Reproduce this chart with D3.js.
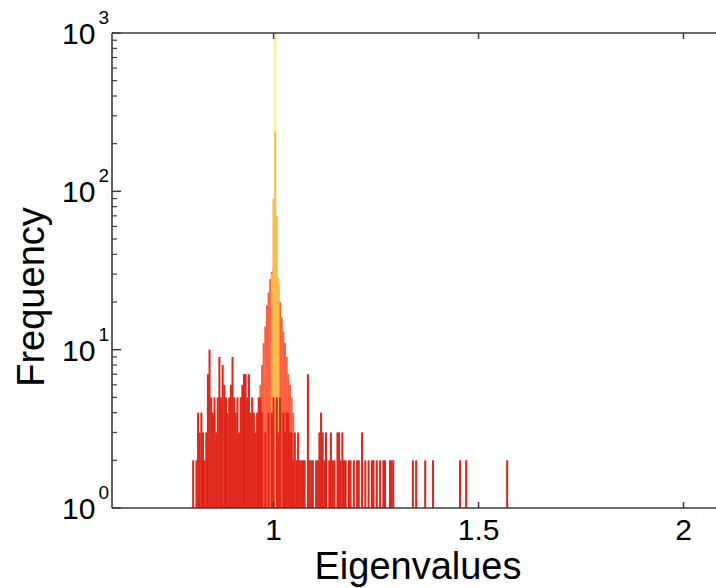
<!DOCTYPE html>
<html>
<head>
<meta charset="utf-8">
<script src="https://cdn.jsdelivr.net/npm/d3@7"></script>
<style>
  body { margin: 0; background: #fff; }
  svg { display: block; font-family: "Liberation Sans", Arial, Helvetica, sans-serif; }
</style>
</head>
<body>
<svg id="chart" width="716" height="588"></svg>
<script>
// histogram bin width (eigenvalue units)
const binWidth = 0.004

// broad red series: bin centers + counts
const redX = [0.805, 0.813, 0.817, 0.821, 0.825, 0.829, 0.833, 0.837, 0.841, 0.845, 0.849, 0.853, 0.857, 0.861, 0.865, 0.869,
  0.873, 0.877, 0.881, 0.885, 0.889, 0.893, 0.897, 0.901, 0.905, 0.909, 0.913, 0.917, 0.921, 0.925, 0.929, 0.933,
  0.937, 0.941, 0.945, 0.949, 0.953, 0.957, 0.961, 0.965, 0.969, 0.973, 0.981, 0.989, 0.997,
  1.001, 1.009, 1.013, 1.017, 1.025, 1.029, 1.033, 1.037, 1.041, 1.045, 1.049, 1.053, 1.057, 1.061,
  1.065, 1.069, 1.073, 1.077, 1.085, 1.089, 1.093, 1.097, 1.105, 1.109, 1.113, 1.117, 1.121, 1.125, 1.129, 1.137,
  1.141, 1.145, 1.149, 1.157, 1.161, 1.165, 1.169, 1.173, 1.177, 1.185, 1.189, 1.197, 1.205, 1.209, 1.217, 1.225,
  1.233, 1.241, 1.245, 1.253, 1.261, 1.269, 1.273, 1.285, 1.289, 1.293, 1.341, 1.349, 1.371, 1.390, 1.456, 1.471, 1.571]
const redCount = [2, 2, 4, 3, 4, 3, 2, 3, 7, 10, 5, 4, 5, 3, 5, 9,
  5, 8, 6, 5, 4, 5, 6, 9, 5, 4, 5, 3, 5, 6, 7, 7,
  5, 7, 4, 5, 4, 3, 4, 5, 5, 4, 3, 4, 4,
  5, 5, 3, 5, 4, 3, 4, 4, 3, 3, 2, 3, 2, 3,
  2, 2, 2, 2, 7, 2, 2, 2, 2, 2, 3, 4, 3, 2, 3, 2,
  3, 2, 2, 3, 3, 2, 3, 2, 2, 2, 2, 2, 2, 2, 3, 2,
  2, 2, 2, 2, 2, 2, 2, 2, 2, 2, 2, 2, 2, 2, 2, 2, 2]

// orange-red series around 1
const orangeRedX = [0.965, 0.969, 0.973, 0.977, 0.981, 0.985, 0.989, 0.993, 0.997, 1.001, 1.005, 1.009, 1.013, 1.017,
  1.021, 1.025, 1.029, 1.033, 1.037, 1.041, 1.045, 1.049]
const orangeRedCount = [4, 6, 8, 11, 14, 19, 23, 28, 31, 33, 32, 29, 26, 20, 16, 13, 11, 9, 7, 6, 5, 4]

// orange series, narrow
const orangeX = [0.997, 1.001, 1.005, 1.009, 1.013]
const orangeCount = [30, 90, 240, 70, 28]

// yellow spike
const yellowX = [1.005]
const yellowCount = [1000]

const xTicks = [1, 1.5, 2]
const yTicks = [1, 10, 100, 1000]
const yTickExp = ['0', '1', '2', '3']

const svg = d3.select('#chart')

const x = d3.scaleLinear().domain([0.607, 2.2]).range([112, 765])
const y = d3.scaleLog().domain([1, 1000]).range([508, 33])

const series = [
  { xs: orangeRedX, cs: orangeRedCount, color: '#ff5f3f' },
  { xs: yellowX, cs: yellowCount, color: '#fff07e' },
  { xs: orangeX, cs: orangeCount, color: '#ffba4c' },
  { xs: redX, cs: redCount, color: '#e0261a' }
]

series.forEach(s => {
  const pts = s.xs.map((v, i) => ({ v: v, c: s.cs[i] }))
  svg.append('g').selectAll('rect').data(pts).join('rect')
    .attr('x', d => x(d.v - binWidth / 2) - 0.2)
    .attr('width', d => x(d.v + binWidth / 2) - x(d.v - binWidth / 2) + 0.4)
    .attr('y', d => y(d.c))
    .attr('height', d => y(1) - y(d.c))
    .attr('fill', s.color)
})

// axes, MATLAB style with ticks inward
const axisColor = '#3a3a3a'
const bottomAxis = svg.append('g').attr('transform', 'translate(0,508)')
  .call(d3.axisBottom(x).tickValues(xTicks).tickSizeInner(-6).tickSizeOuter(0).tickPadding(11).tickFormat(d3.format('')))
bottomAxis.select('.domain').remove()
bottomAxis.selectAll('line').attr('stroke', axisColor).attr('stroke-width', 1.5)
bottomAxis.selectAll('text').attr('font-size', 30).attr('fill', '#000')
bottomAxis.attr('font-family', null).attr('font-size', null)

const topAxis = svg.append('g').attr('transform', 'translate(0,33)')
  .call(d3.axisTop(x).tickValues(xTicks).tickSizeInner(-6).tickSizeOuter(0).tickFormat(''))
topAxis.select('.domain').remove()
topAxis.selectAll('line').attr('stroke', axisColor).attr('stroke-width', 1.5)

// left axis: major + minor log ticks
const minor = []
yTicks.slice(0, -1).forEach(t => { for (let k = 2; k < 10; k++) minor.push(t * k) })
const leftAxis = svg.append('g').attr('transform', 'translate(112,0)')
leftAxis.selectAll('.minor').data(minor).join('line').attr('class', 'minor')
  .attr('x1', 0).attr('x2', 5).attr('y1', d => y(d)).attr('y2', d => y(d))
  .attr('stroke', axisColor).attr('stroke-width', 1.2)
leftAxis.selectAll('.major').data(yTicks).join('line').attr('class', 'major')
  .attr('x1', 0).attr('x2', 9).attr('y1', d => y(d)).attr('y2', d => y(d))
  .attr('stroke', axisColor).attr('stroke-width', 1.5)

const lbl = svg.append('g').selectAll('text').data(yTicks).join('text')
  .attr('x', 109).attr('y', d => y(d) + 11)
  .attr('text-anchor', 'end').attr('font-size', 30).attr('fill', '#000')
lbl.append('tspan').text('10')
lbl.append('tspan').attr('font-size', 19).attr('dx', 3).attr('dy', -20).text((d, i) => yTickExp[i])

// frame lines
svg.append('line').attr('x1', 112).attr('x2', 716).attr('y1', 33).attr('y2', 33)
  .attr('stroke', axisColor).attr('stroke-width', 1.6)
svg.append('line').attr('x1', 112).attr('x2', 716).attr('y1', 508).attr('y2', 508)
  .attr('stroke', axisColor).attr('stroke-width', 1.6)
svg.append('line').attr('x1', 112).attr('x2', 112).attr('y1', 33).attr('y2', 508)
  .attr('stroke', axisColor).attr('stroke-width', 1.6)

// axis titles
svg.append('text').attr('x', 418).attr('y', 579).attr('text-anchor', 'middle')
  .attr('font-size', 38).attr('fill', '#000').text('Eigenvalues')
svg.append('text').attr('transform', 'translate(44,297) rotate(-90)').attr('text-anchor', 'middle')
  .attr('font-size', 38).attr('fill', '#000').text('Frequency')
</script>
</body>
</html>
